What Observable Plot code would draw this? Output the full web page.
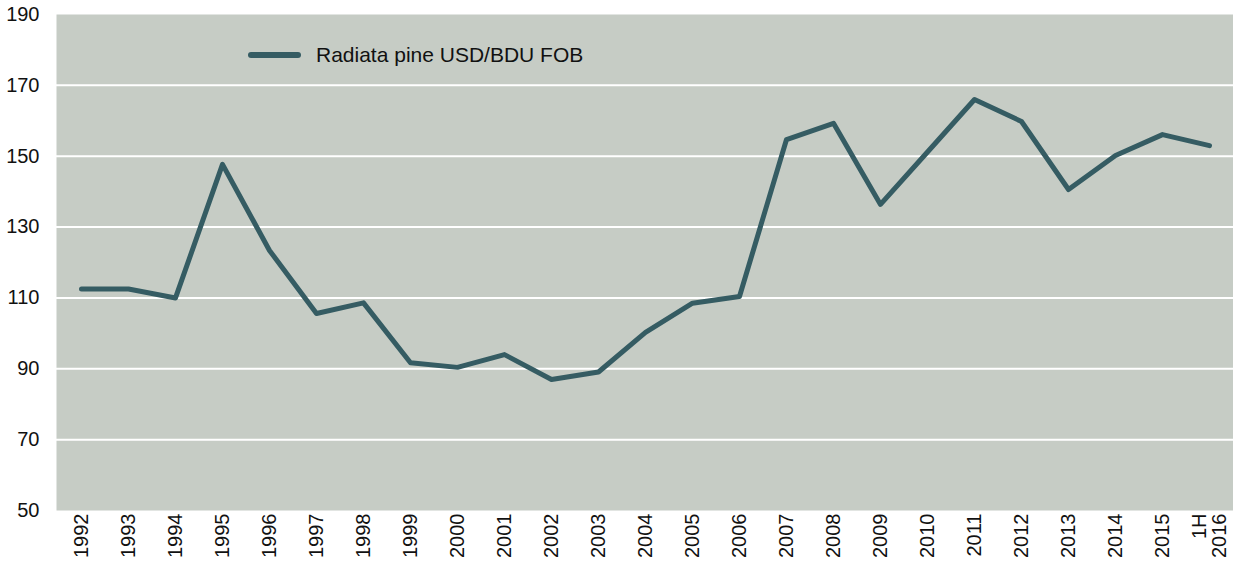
<!DOCTYPE html>
<html>
<head>
<meta charset="utf-8">
<script src="https://cdn.jsdelivr.net/npm/d3@7"></script>
<script src="https://cdn.jsdelivr.net/npm/@observablehq/plot@0.6"></script>
<style>
  html, body { margin: 0; padding: 0; background: #fff; }
  #wrap { position: relative; width: 1233px; height: 563px; font-family: "Liberation Sans", Arial, Helvetica, sans-serif; }
  #legend { position: absolute; left: 248px; top: 42px; height: 26px; display: flex; align-items: center; font-size: 21px; color: #111; }
  #legend .sw { width: 53px; height: 6px; border-radius: 3px; background: #355c63; margin-right: 15px; }
</style>
</head>
<body>
<div id="wrap">
  <div id="chart"></div>
  <div id="legend"><div class="sw"></div><span id="legtext"></span></div>
</div>
<script>
const seriesName = "Radiata pine USD/BDU FOB";
const periods = ["1992","1993","1994","1995","1996","1997","1998","1999","2000","2001","2002","2003","2004","2005","2006","2007","2008","2009","2010","2011","2012","2013","2014","2015","1H\n2016"];
const prices = [112.5,112.5,110.0,147.7,123.4,105.6,108.6,91.7,90.4,94.0,87.0,89.1,100.3,108.5,110.4,154.7,159.3,136.4,151.2,166.0,159.8,140.6,150.2,156.1,153.0];
const yTicks = [50,70,90,110,130,150,170,190];
const gridTicks = [70,90,110,130,150,170];

const data = periods.map((p, i) => ({period: p, value: prices[i]}));
document.getElementById("legtext").textContent = seriesName;

const chart = Plot.plot({
  width: 1233,
  height: 563,
  marginLeft: 56,
  marginRight: 0,
  marginTop: 14,
  marginBottom: 53,
  style: {fontFamily: '"Liberation Sans", Arial, Helvetica, sans-serif', fontSize: "20px", color: "#111", background: "#fff"},
  x: {type: "point", domain: periods, padding: 0.5, label: null},
  y: {domain: [50, 190], label: null},
  marks: [
    Plot.frame({fill: "#c6ccc5", stroke: null}),
    Plot.gridY(gridTicks, {stroke: "#fff", strokeOpacity: 1, strokeWidth: 2}),
    Plot.line(data, {x: "period", y: "value", stroke: "#355c63", strokeWidth: 5, strokeLinejoin: "round", strokeLinecap: "round"}),
    Plot.axisY(yTicks, {tickSize: 0, tickPadding: 17, fontSize: 20, fill: "#111", label: null}),
    Plot.axisX({tickRotate: -90, tickSize: 0, tickPadding: 3, fontSize: 20, fill: "#111", label: null})
  ]
});
document.getElementById("chart").appendChild(chart);
</script>
</body>
</html>
